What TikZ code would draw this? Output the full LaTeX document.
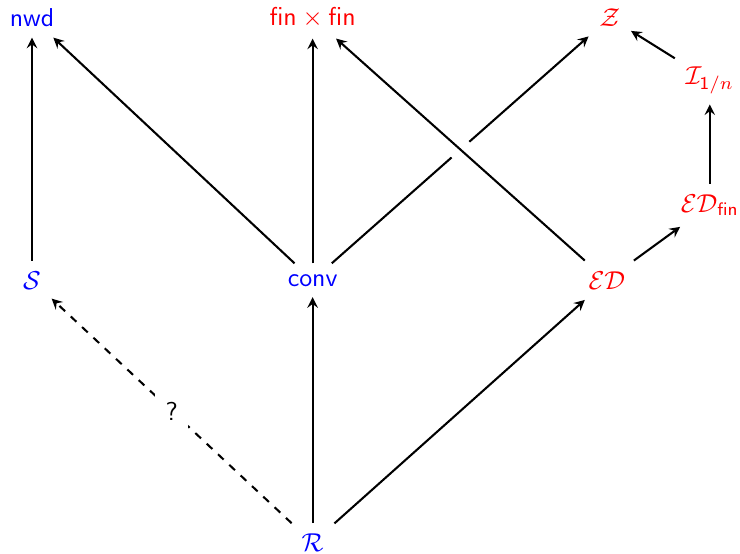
\documentclass[tikz,border=0pt]{standalone}
\usepackage{tikz}
\usetikzlibrary{arrows, arrows.meta, positioning}
\renewcommand{\familydefault}{\sfdefault}

\begin{document}
\begin{tikzpicture}[
        blueset/.style={text=blue, inner sep=4pt},
        redset/.style={text=red, inner sep=4pt},
        arr/.style={thick, -stealth},
        maybe/.style={thick, dashed, -stealth}
    ]
        \useasboundingbox (0,0) rectangle (10.06,7.53);
        % Nodes
        \node[blueset] (nwd) at (0.435, 7.29) {nwd};
        \node[redset] (finfin) at (4.25, 7.29) {$\mathsf{fin}\times\mathsf{fin}$};
        \node[redset] (zz) at (8.29, 7.29) {$\mathcal{Z}$};
        \node[redset] (ione) at (9.65, 6.44) {$\mathcal{I}_{\mathsf{1}/n}$};
        \node[redset] (edfin) at (9.65, 4.74) {$\mathcal{ED}_{\mathsf{fin}}$};
        \node[redset] (ed) at (8.25, 3.72) {$\mathcal{ED}$};
        \node[blueset] (ss) at (0.435, 3.72) {$\mathcal{S}$};
        \node[blueset] (conv) at (4.25, 3.72) {conv};
        \node[blueset] (rr) at (4.25, 0.15) {$\mathcal{R}$};

        % Arrows
        \draw[arr] (ss) -- (nwd);
        \draw[arr] (conv) -- (nwd);
        \draw[arr] (conv) -- (finfin);
        \draw[arr] (conv) -- (zz);
        \draw[arr, preaction={draw, white, line width=9pt, -}] (ed) -- (finfin);
        \draw[arr] (ed) -- (edfin);
        \draw[arr] (edfin) -- (ione);
        \draw[arr] (ione) -- (zz);
        \draw[arr] (rr) -- (conv);
        \draw[arr] (rr) -- (ed);
        \draw[maybe] (rr) -- node[fill=white, inner sep=4pt] {?} (ss);
    \end{tikzpicture}
\end{document}
